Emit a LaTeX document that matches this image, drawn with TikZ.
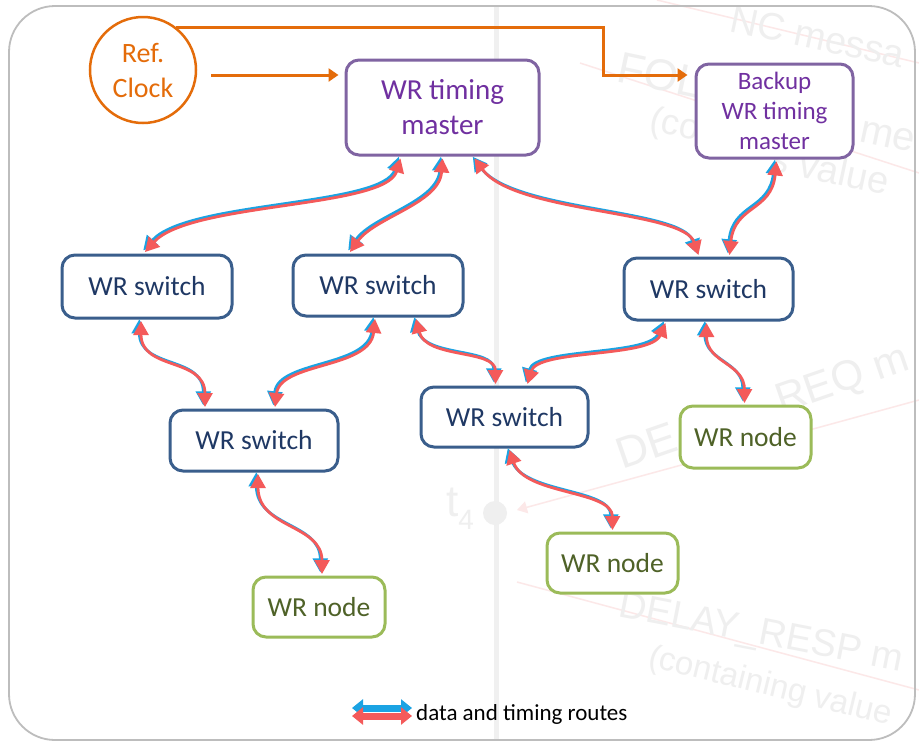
\documentclass[tikz,border=0pt]{standalone}
\usepackage{fontspec}
\setmainfont{Carlito}
\newfontfamily\wmfont{Liberation Sans}
\usetikzlibrary{arrows.meta}
\definecolor{orng}{HTML}{E46C0A}
\definecolor{purb}{HTML}{8064A2}
\definecolor{purt}{HTML}{7030A0}
\definecolor{blub}{HTML}{3A5E8C}
\definecolor{blut}{HTML}{1F3864}
\definecolor{grnb}{HTML}{9BBB59}
\definecolor{grnt}{HTML}{4F6228}
\definecolor{rred}{HTML}{F45A5A}
\definecolor{rblu}{HTML}{1BA3E3}
\definecolor{wmc}{HTML}{EFEFEF}
\definecolor{wml}{HTML}{FCE8E8}
\definecolor{vline}{HTML}{F0F0F0}
\definecolor{framec}{HTML}{BDBDBD}
\newcommand\fsz[2]{\fontsize{#1}{#2}\selectfont}
\newcommand\wrroute[1]{%
  \draw[rtblue,transform canvas={xshift=-1.7pt,yshift=1.7pt}] #1;%
  \draw[rtred] #1;}
\begin{document}
\begin{tikzpicture}[x=1pt,y=-1pt,
  box/.style={draw,line width=3pt,rounded corners=13pt,fill=white,align=center,inner sep=0pt},
  masterbox/.style={box,draw=purb,text=purt,font=\fsz{29}{35}},
  backupbox/.style={box,draw=purb,text=purt,font=\fsz{25}{30}},
  switchbox/.style={box,draw=blub,text=blut,font=\fsz{27.5}{32}},
  nodebox/.style={box,draw=grnb,text=grnt,font=\fsz{27.5}{32}},
  refclock/.style={circle,draw=orng,line width=2.5pt,text=orng,fill=white,align=center,minimum size=106pt,inner sep=0pt,font=\fsz{28}{35}},
  clockarrow/.style={draw=orng,line width=3pt,-{Triangle[width=13pt,length=10pt]}},
  rtblue/.style={draw=rblu,line width=2.8pt,{Triangle[width=15pt,length=14pt]}-{Triangle[width=15pt,length=14pt]}},
  rtred/.style={draw=rred,line width=2.8pt,{Triangle[width=15pt,length=14pt]}-{Triangle[width=15pt,length=14pt]}},
  wmtext/.style={text=wmc,font=\wmfont\fsz{#1}{#1},anchor=base west,inner sep=0pt},
  wmline/.style={draw=wml,line width=1.5pt},
]
\useasboundingbox[fill=white] (0,0) rectangle (919,745);

% ---- faint background residue ----
\begin{scope}
\clip (0,0) rectangle (919,745);
\draw[vline,line width=5pt] (496,6) -- (496,740);
\fill[wmc] (495,513) circle (12);
\draw[wmline] (657,0) -- (919,63);
\draw[wmline] (580,63) -- (919,173);
\draw[wmline,-{Triangle[width=12pt,length=10pt]}] (919,400) -- (517,510);
\draw[wmline] (517,582) -- (919,690);
\node[wmtext=38,rotate=-12] (w1) at (728,31) {NC messa};
\node[wmtext=44,rotate=-12] (w2) at (615,81) {FOL};
\node[wmtext=40,rotate=-12] (w3) at (858,141) {me};
\node[wmtext=36,rotate=-12] (w4) at (648,130) {(co};
\node[wmtext=38,rotate=-12] (w5) at (768,170) {s value};
\node[wmtext=44,rotate=19] (w6) at (622,470) {DE};
\node[wmtext=42,rotate=19] (w7) at (781,414) {REQ m};
\node[wmtext=44] (w8) at (446,516) {t\raisebox{-0.3em}{\fsz{28}{28}4}};
\node[wmtext=38,rotate=-11] (w9) at (617,616) {DELAY\_RESP m};
\node[wmtext=33,rotate=-13.6] (w10) at (647,666) {(containing value};
\end{scope}

% ---- frame ----
\draw[framec,line width=1.8pt,rounded corners=46pt] (9,6) rectangle (915,740);

% ---- nodes ----
\node[refclock] (ref) at (143,70) {Ref.\\Clock};
\node[masterbox,minimum width=193pt,minimum height=95pt] (master) at (442.5,107.5) {WR timing\\master};
\node[backupbox,minimum width=157pt,minimum height=94pt] (backup) at (774.5,111) {Backup\\WR timing\\master};
\node[switchbox,minimum width=170pt,minimum height=63pt] (s1) at (147,286.5) {WR switch};
\node[switchbox,minimum width=170pt,minimum height=61pt] (s2) at (378,285.5) {WR switch};
\node[switchbox,minimum width=169pt,minimum height=62pt] (s3) at (708.5,289) {WR switch};
\node[switchbox,minimum width=168pt,minimum height=61pt] (s4) at (254,440.5) {WR switch};
\node[switchbox,minimum width=167pt,minimum height=60pt] (s5) at (504.5,417) {WR switch};
\node[nodebox,minimum width=132pt,minimum height=60pt] (n1) at (319,607) {WR node};
\node[nodebox,minimum width=131pt,minimum height=60pt] (n2) at (612.5,563) {WR node};
\node[nodebox,minimum width=131pt,minimum height=62pt] (n3) at (745.5,437) {WR node};

% ---- clock distribution ----
\coordinate (bend) at (603,50);
\draw[clockarrow] ([xshift=14pt,yshift=-5pt]ref.east) -- ([xshift=-6pt,yshift=32.5pt]master.west);
\draw[clockarrow] (ref.52) -| (bend) |- ([xshift=-7pt,yshift=36pt]backup.west);

% ---- data and timing routes ----
\wrroute{([xshift=-42pt,yshift=-2pt]master.south) .. controls +(-15,50) and +(45,-50) .. ([xshift=-2pt,yshift=1.5pt]s1.north)}
\wrroute{([yshift=-2pt]master.south) .. controls +(-3,45) and +(25,-35) .. ([xshift=-28pt,yshift=1.5pt]s2.north)}
\wrroute{([xshift=32pt,yshift=-2pt]master.south) .. controls +(40,55) and +(-15,-45) .. ([xshift=-10pt,yshift=1.5pt]s3.north)}
\wrroute{([xshift=2pt,yshift=-2pt]backup.south) .. controls +(-5,50) and +(5,-50) .. ([xshift=21pt,yshift=1.5pt]s3.north)}
\wrroute{([xshift=-6pt,yshift=-1.5pt]s1.south) .. controls +(0,50) and +(0,-50) .. ([xshift=-49pt,yshift=1.5pt]s4.north)}
\wrroute{([xshift=-3pt,yshift=-1.5pt]s2.south) .. controls +(-5,50) and +(5,-45) .. ([xshift=21pt,yshift=1.5pt]s4.north)}
\wrroute{([xshift=38pt,yshift=-1.5pt]s2.south) .. controls +(10,40) and +(0,-35) .. ([xshift=-9pt,yshift=1.5pt]s5.north)}
\wrroute{([xshift=-43pt,yshift=-1.5pt]s3.south) .. controls +(-15,35) and +(10,-35) .. ([xshift=23pt,yshift=1.5pt]s5.north)}
\wrroute{([xshift=-2pt,yshift=-1.5pt]s3.south) .. controls +(0,40) and +(0,-40) .. ([xshift=-1pt,yshift=1.5pt]n3.north)}
\wrroute{([xshift=4pt,yshift=-1.5pt]s4.south) .. controls +(0,55) and +(0,-50) .. ([xshift=3pt,yshift=1.5pt]n1.north)}
\wrroute{([xshift=5pt,yshift=-1.5pt]s5.south) .. controls +(15,45) and +(0,-40) .. ([yshift=1.5pt]n2.north)}

% ---- legend ----
\coordinate (lgl) at (352,712);
\coordinate (lgr) at (412,712);
\draw[draw=rblu,line width=7pt,{Triangle[width=17pt,length=11pt]}-{Triangle[width=17pt,length=11pt]}] ([yshift=4pt]lgl) -- ([yshift=4pt]lgr);
\draw[draw=rred,line width=7pt,{Triangle[width=17pt,length=11pt]}-{Triangle[width=17pt,length=11pt]}] ([yshift=-4pt]lgl) -- ([yshift=-4pt]lgr);
\node[anchor=west,font=\fsz{23}{27},inner sep=0pt] (lgtext) at (416,714) {data and timing routes};
\end{tikzpicture}
\end{document}
